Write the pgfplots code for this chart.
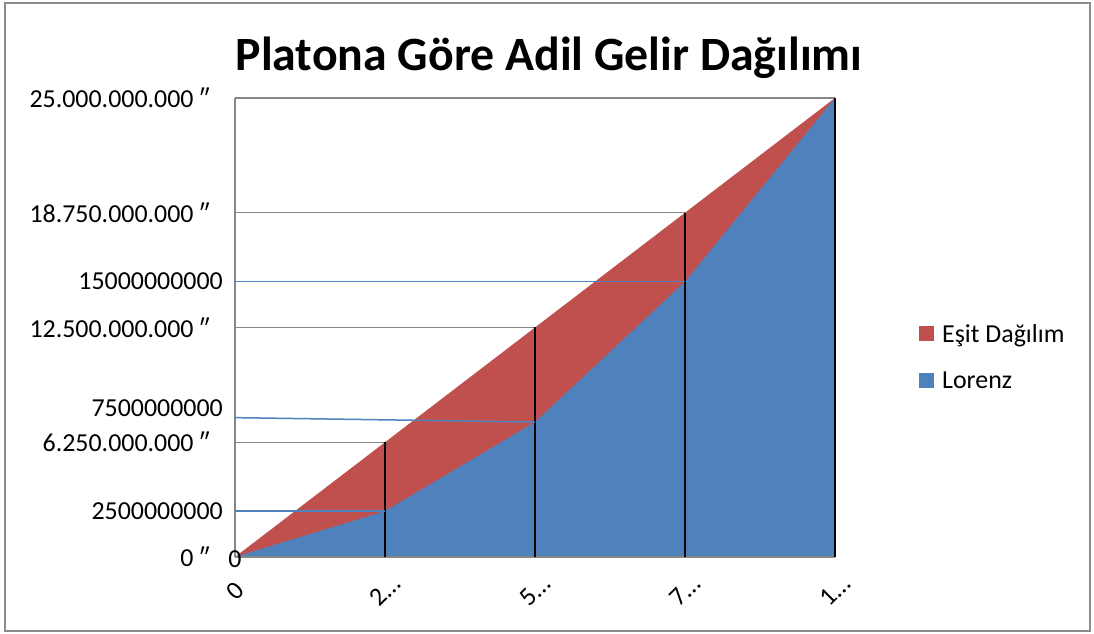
\documentclass[border=0pt]{standalone}
\usepackage{pgfplots}
\usepackage{pgfplotstable}
\pgfplotsset{compat=1.18}
\usepackage{fontspec}
\setmainfont{Carlito}
\definecolor{exred}{HTML}{C0504D}
\definecolor{exblue}{HTML}{4F81BD}
\definecolor{exgray}{HTML}{868686}
\pgfplotstableread{
x esit lorenz
0 0 0
1 6.25e9 2.5e9
2 12.5e9 7.35e9
3 18.75e9 15e9
4 25e9 25e9
}\data
\begin{document}
\begin{tikzpicture}
\useasboundingbox (0,0) rectangle (1094bp,634bp);
\fill[white] (0,0) rectangle (1094bp,634bp);
\draw[color=black!45, line width=1.5bp] (5bp,3bp) rectangle (1090bp,631bp);
\node[font=\fontsize{48}{56}\selectfont\bfseries] at (549bp,576bp) {Platona Göre Adil Gelir Dağılımı};
\begin{axis}[
 at={(235bp,77bp)}, anchor=south west,
 scale only axis, width=600bp, height=459bp,
 xmin=0, xmax=4, ymin=0, ymax=25e9,
 clip=false,
 scaled y ticks=false,
 axis line style={draw=none},
 major tick length=0pt,
 xtick={0,1,2,3,4}, xticklabels={0,2…,5…,7…,1…},
 xticklabel style={yshift=-34bp, rotate=45, anchor=center, font=\fontsize{26}{30}\selectfont},
 ytick={0,6.25e9,12.5e9,18.75e9,25e9},
 yticklabels={0 ″, 6.250.000.000 ″, 12.500.000.000 ″, 18.750.000.000 ″, 25.000.000.000 ″},
 yticklabel style={anchor=east, inner sep=0pt, xshift=-25bp, font=\fontsize{26}{30}\selectfont},
 extra y ticks={2.5e9,8.1e9,15e9},
 extra y tick labels={2500000000,7500000000,15000000000},
 extra y tick style={yticklabel style={xshift=13bp}},
 legend style={at={(1.14,0.436)}, anchor=west, draw=none, fill=none, inner sep=0pt,
   font=\fontsize{26}{30}\selectfont, row sep=24bp, legend cell align=left,
   /tikz/every odd column/.append style={column sep=6bp}},
 legend image code/.code={\fill[#1] (0bp,-7.5bp) rectangle (15bp,7.5bp);},
]
\addplot[fill=exred, draw=none] table[x=x,y=esit]{\data} \closedcycle;
\addlegendentry{Eşit Dağılım}
\addplot[fill=exblue, draw=none] table[x=x,y=lorenz]{\data} \closedcycle;
\addlegendentry{Lorenz}
% axis lines
\addplot[exgray, line width=1.2bp, forget plot] coordinates {(0,0) (4,0)};
\addplot[exgray, line width=1.2bp, forget plot] coordinates {(0,0) (0,25e9)};
% gray guide lines
\addplot[exgray, line width=1.2bp, forget plot] coordinates {(0,6.25e9) (1,6.25e9)};
\addplot[exgray, line width=1.2bp, forget plot] coordinates {(0,12.5e9) (2,12.5e9)};
\addplot[exgray, line width=1.2bp, forget plot] coordinates {(0,18.75e9) (3,18.75e9)};
\addplot[exgray, line width=1.2bp, forget plot] coordinates {(0,25e9) (4,25e9)};
% black verticals
\addplot[black, line width=1.8bp, forget plot] coordinates {(1,0) (1,6.25e9)};
\addplot[black, line width=1.8bp, forget plot] coordinates {(2,0) (2,12.5e9)};
\addplot[black, line width=1.8bp, forget plot] coordinates {(3,0) (3,18.75e9)};
\addplot[black, line width=1.8bp, forget plot] coordinates {(4,0) (4,25e9)};
% blue guide lines
\addplot[exblue, line width=1.5bp, forget plot] coordinates {(0,2.5e9) (1,2.5e9)};
\addplot[exblue, line width=1.5bp, forget plot] coordinates {(0,7.59e9) (2,7.35e9)};
\addplot[exblue, line width=1.5bp, forget plot] coordinates {(0,15e9) (3,15e9)};
\node[font=\fontsize{26}{30}\selectfont] at (axis cs:0,0) [yshift=-2bp] {0};
\end{axis}
\end{tikzpicture}
\end{document}
